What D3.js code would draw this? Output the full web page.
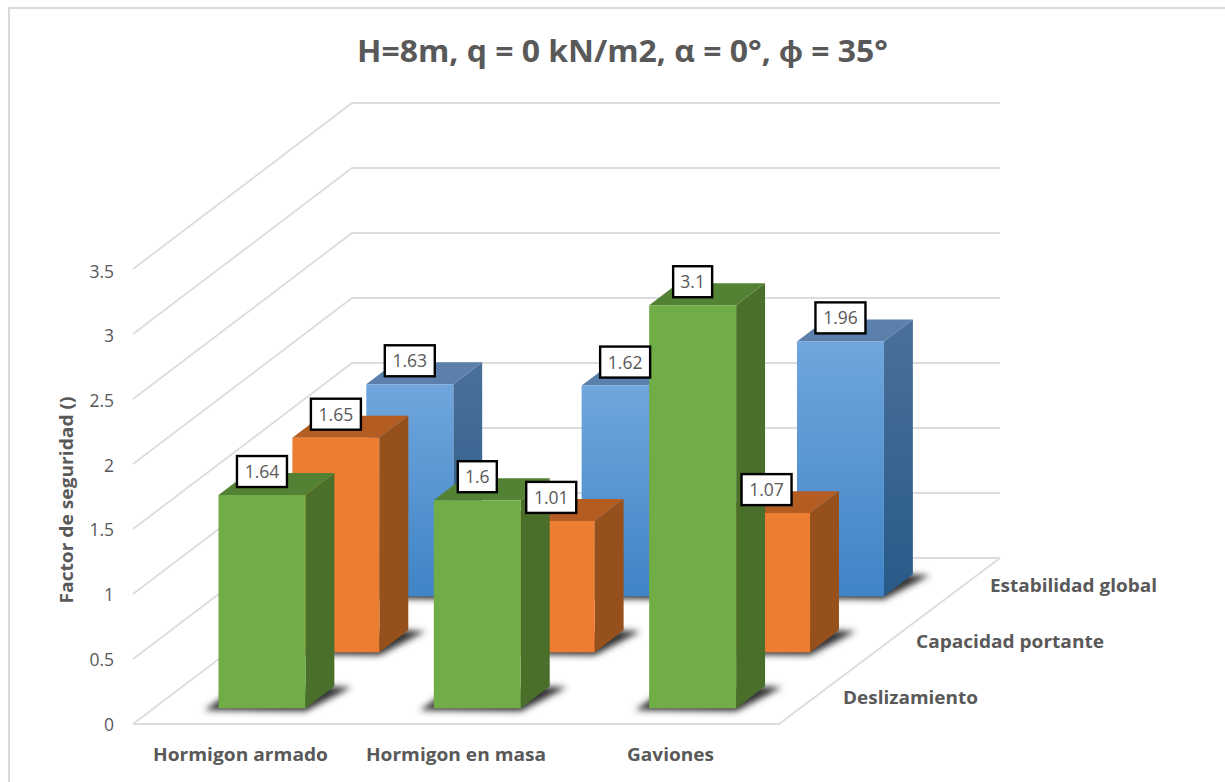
<!DOCTYPE html>
<html><head><meta charset="utf-8">
<script src="https://cdn.jsdelivr.net/npm/d3@7"></script>
<style>html,body{margin:0;background:#fff}svg{display:block}text{font-family:"Open Sans",sans-serif;fill:#595959}</style>
</head><body><div id="c"></div>
<script>
const categories = ["Hormigon armado","Hormigon en masa","Gaviones"];
const seriesNames = ["Deslizamiento","Capacidad portante","Estabilidad global"];
const deslizamiento = [1.64,1.6,3.1];
const capacidadPortante = [1.65,1.01,1.07];
const estabilidadGlobal = [1.63,1.62,1.96];
const yTicks = [0,0.5,1,1.5,2,2.5,3,3.5];
const yTickLabels = ["0","0.5","1","1.5","2","2.5","3","3.5"];
const titleText = "H=8m, q = 0 kN/m2, α = 0°, ϕ = 35°";
const yTitle = "Factor de seguridad ()";
const seriesValues = [deslizamiento,capacidadPortante,estabilidadGlobal];

const W=1225,H=782;
const svg=d3.select("#c").append("svg").attr("width",W).attr("height",H);
const defs=svg.append("defs");
defs.append("filter").attr("id","blur").attr("x","-30%").attr("y","-100%").attr("width","160%").attr("height","300%")
  .append("feGaussianBlur").attr("stdDeviation",3);
function grad(id,a,b){const g=defs.append("linearGradient").attr("id",id).attr("x1",0).attr("y1",0).attr("x2",0).attr("y2",1);
  g.append("stop").attr("offset",0).attr("stop-color",a);g.append("stop").attr("offset",1).attr("stop-color",b);}
grad("blueFront","#70a6dd","#3f84c6");
grad("blueSide","#4a7099","#285a88");

const y=d3.scaleLinear().domain([0,3.5]).range([0,-455]);
const labelY=d3.scaleLinear().domain([0,3.5]).range([724,271]);
const barY=d3.scaleLinear().domain([0,1]).range([0,-130]);
const depthX=d3.scaleLinear().domain([0,1]).range([0,219]);
const depthY=d3.scaleLinear().domain([0,1]).range([724,558]);
const x=d3.scaleBand().domain(categories).range([133.5,779.5]).paddingInner(0.596).paddingOuter(0.298);
const z=d3.scalePoint().domain(seriesNames).range([0.095,0.77]);
const barDepth=0.132;
const floorL=133,floorR=781;
const P=(px,d,h)=>[px+depthX(d),depthY(d)+h];
const line=pts=>"M"+pts.map(p=>p.join(",")).join("L")+"Z";
const gridCol="#dcdcdc";

// border
svg.append("path").attr("d",`M9,${H}V8H${W}`).attr("fill","none").attr("stroke","#d9d9d9").attr("stroke-width",2);

// walls
const wall=svg.append("g").attr("fill","none").attr("stroke",gridCol).attr("stroke-width",1.8);
yTicks.forEach(t=>{
  const a=P(floorL,0,y(t)),b=P(floorL,1,y(t)),c=P(floorR,1,y(t));
  wall.append("path").attr("d","M"+[a,b,c].map(p=>p.join(",")).join("L"));
});
wall.append("path").attr("d","M"+[P(floorL,0,0),[779,724],P(floorR,1,0)].map(p=>p.join(",")).join("L"));

// tick labels
svg.append("g").selectAll("text").data(yTicks).join("text")
  .attr("x",114).attr("y",t=>labelY(t)+6.5).attr("text-anchor","end").attr("font-size",17.5)
  .text((t,i)=>yTickLabels[i]);

const styles={
 "Deslizamiento":{front:"#70ad47",side:"#4a6f2a",top:"#548235"},
 "Capacidad portante":{front:"#ed7d31",side:"#96501c",top:"#b35d22"},
 "Estabilidad global":{front:"url(#blueFront)",side:"url(#blueSide)",top:"#5a80ab"}
};

// bars back to front
const rows=seriesNames.map((s,i)=>({s,i})).reverse();
const bw=x.bandwidth();
rows.forEach(({s,i})=>{
  const g=svg.append("g");
  const d0=z(s),d1=d0+barDepth,st=styles[s];
  categories.forEach((c,k)=>{
    const L=x(c),R=L+bw,h=barY(seriesValues[i][k]);
    const a=P(L,d0,0),b=P(R,d0,0),br=P(R,d1,0);
    g.append("path").attr("filter","url(#blur)").attr("fill","#333")
      .attr("d",line([[a[0]-14,a[1]+2],[b[0],b[1]+3],[br[0]+17,br[1]+1],[br[0]-10,br[1]],[a[0]+6,a[1]-12]]));
    g.append("path").attr("fill",st.side).attr("d",line([P(R,d0,0),P(R,d1,0),P(R,d1,h),P(R,d0,h)]));
    g.append("path").attr("fill",st.top).attr("d",line([P(L,d0,h),P(R,d0,h),P(R,d1,h),P(L,d1,h)]));
    g.append("path").attr("fill",st.front).attr("d",line([P(L,d0,0),P(R,d0,0),P(R,d0,h),P(L,d0,h)]));
  });
});

// data labels
const lab=svg.append("g");
seriesNames.forEach((s,i)=>categories.forEach((c,k)=>{
  const v=seriesValues[i][k],p=P(x(c)+bw/2,z(s),barY(v));
  const w=String(v).length>3?50:39;
  lab.append("rect").attr("x",p[0]-w/2).attr("y",p[1]-39).attr("width",w).attr("height",31)
    .attr("fill","#fff").attr("stroke","#000").attr("stroke-width",2.4);
  lab.append("text").attr("x",p[0]).attr("y",p[1]-17).attr("text-anchor","middle").attr("font-size",17.5).text(v);
}));

// fits a text to the width it has in the picture
const fit=(sel,len)=>sel.attr("textLength",len).attr("lengthAdjust","spacingAndGlyphs");

// category labels
svg.append("g").selectAll("text").data(categories).join("text")
  .attr("x",(c,i)=>[240.5,456,670.5][i]).attr("y",761).attr("text-anchor","middle")
  .attr("font-size",17).attr("font-weight",700).text(d=>d)
  .each(function(d,i){fit(d3.select(this),[175,180,87][i]);});
// series labels
svg.append("g").selectAll("text").data(seriesNames).join("text")
  .attr("x",(s,i)=>[843,916,990][i]).attr("y",(s,i)=>[704,648,592][i])
  .attr("font-size",17).attr("font-weight",700).text(d=>d)
  .each(function(d,i){fit(d3.select(this),[135,188,167][i]);});

fit(svg.append("text").attr("transform","translate(73,500) rotate(-90)").attr("text-anchor","middle")
  .attr("font-size",17).attr("font-weight",700).text(yTitle),207);
fit(svg.append("text").attr("x",622.5).attr("y",62).attr("text-anchor","middle")
  .attr("font-size",30).attr("font-weight",700).text(titleText),531);
</script></body></html>
